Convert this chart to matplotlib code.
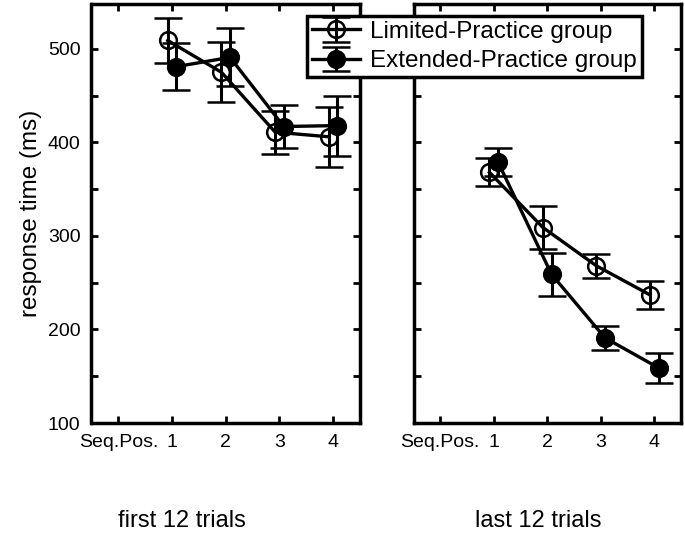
"""Response time by sequence position, first vs last 12 trials."""

import matplotlib.pyplot as plt
from matplotlib.ticker import MultipleLocator

# data (ms)
positions = [1, 2, 3, 4]
xtick_labels = ["Seq.Pos.", "1", "2", "3", "4"]

limited_first = [509, 475, 411, 406]
limited_first_err = [24, 32, 23, 32]
extended_first = [481, 491, 417, 418]
extended_first_err = [25, 31, 23, 32]

limited_last = [368, 309, 268, 237]
limited_last_err = [15, 23, 13, 15]
extended_last = [379, 259, 191, 159]
extended_last_err = [15, 23, 13, 16]

panel_titles = ["first 12 trials", "last 12 trials"]
series_labels = ["Limited-Practice group", "Extended-Practice group"]

# styling
OFFSET = 0.08
W, H = 685, 538
plt.rcParams["font.family"] = ["Liberation Sans", "DejaVu Sans"]

fig = plt.figure(figsize=(W / 100, H / 100), dpi=100)

ax_left = fig.add_axes([91.5 / W, 1 - 423 / H, (360 - 91.5) / W, (423 - 4) / H])
ax_right = fig.add_axes([413.5 / W, 1 - 423 / H, (681 - 413.5) / W, (423 - 4) / H])

panels = [
    (ax_left, limited_first, limited_first_err, extended_first, extended_first_err),
    (ax_right, limited_last, limited_last_err, extended_last, extended_last_err),
]

handles = []
for ax, lim, lim_err, ext, ext_err in panels:
    x_lim = [p - OFFSET for p in positions]
    x_ext = [p + OFFSET for p in positions]
    # open circles are see-through: bars and line show through them
    h1 = ax.errorbar(
        x_lim, lim, yerr=lim_err, color="black", lw=2.4, marker="o",
        markersize=12, markerfacecolor="none", markeredgewidth=1.8,
        capsize=10, capthick=2.2, elinewidth=2.2, zorder=3,
    )
    h2 = ax.errorbar(
        x_ext, ext, yerr=ext_err, color="black", lw=2.4, marker="o",
        markersize=12, markerfacecolor="black", markeredgewidth=1.8,
        capsize=10, capthick=2.2, elinewidth=2.2, zorder=4,
    )
    handles = [h1, h2]

    ax.set_xlim(-0.5, 4.5)
    ax.set_ylim(100, 548)
    ax.set_xticks([0] + positions)
    ax.set_xticklabels(xtick_labels)
    ax.yaxis.set_major_locator(MultipleLocator(100))
    ax.yaxis.set_minor_locator(MultipleLocator(50))
    ax.tick_params(which="both", direction="in", top=True, right=True,
                   width=2, length=5, labelsize=14, pad=8)
    for spine in ax.spines.values():
        spine.set_linewidth(2.5)

ax_right.tick_params(labelleft=False)
ax_left.set_ylabel("response time (ms)", fontsize=17.5, labelpad=4)

for x_px, title in zip([182, 538], panel_titles):
    fig.text(x_px / W, 1 - 521 / H, title, ha="center", va="center",
             fontsize=17)

leg = fig.legend(
    handles, series_labels, loc="upper left",
    bbox_to_anchor=(307 / W, 1 - 16 / H), fontsize=17.5, frameon=True,
    fancybox=False, framealpha=1, edgecolor="black", borderpad=0.2,
    handlelength=2.0, handletextpad=0.4, labelspacing=0.3, borderaxespad=0,
)
leg.get_frame().set_linewidth(2.5)

fig.savefig("out.png", dpi=100)
